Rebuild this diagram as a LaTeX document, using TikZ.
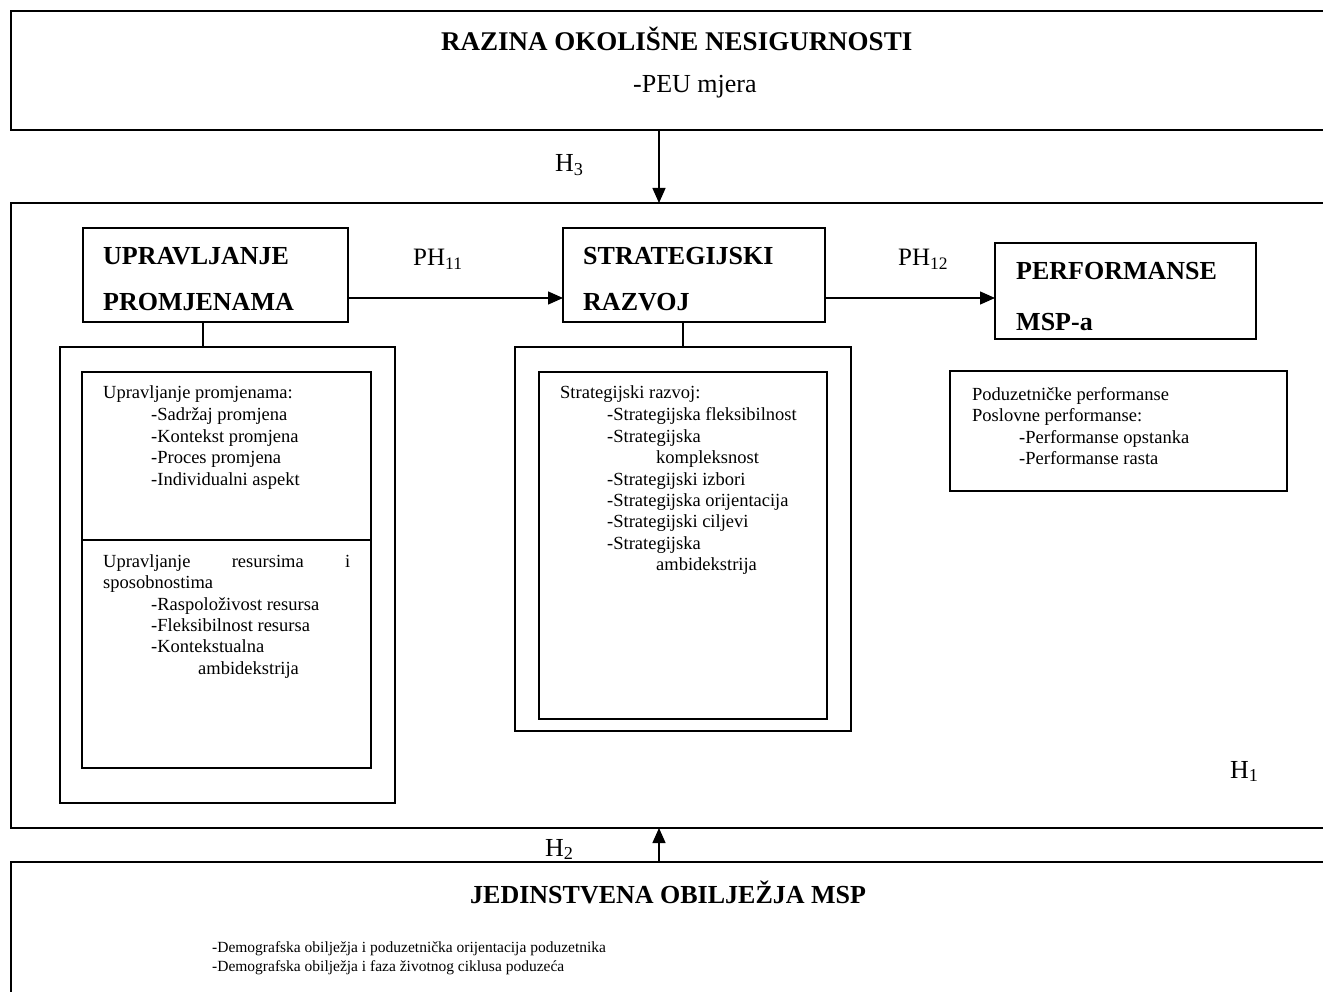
\documentclass[tikz,border=0pt]{standalone}
\usepackage{fontspec}
\setmainfont{Liberation Serif}
\usetikzlibrary{arrows.meta}
\tikzset{
  box/.style={draw, line width=1.7pt, anchor=north west, inner sep=0pt, outer sep=0pt},
  arr/.style={line width=1.4pt, -{Triangle[length=15pt,width=13pt]}},
  lnk/.style={line width=1.4pt},
  txt/.style={anchor=base west, inner sep=0pt, font=\fontsize{18.5}{21}\selectfont},
  small/.style={anchor=base west, inner sep=0pt, font=\fontsize{15.5}{18}\selectfont},
  head/.style={anchor=base west, inner sep=0pt, font=\bfseries\fontsize{26}{30}\selectfont},
  big/.style={anchor=base west, inner sep=0pt, font=\fontsize{26}{30}\selectfont},
  lab/.style={anchor=base west, inner sep=0pt, font=\fontsize{25}{30}\selectfont},
}
\begin{document}
\begin{tikzpicture}[x=1pt,y=-1pt]
\useasboundingbox (0,0) rectangle (1323,992);
\clip (0,0) rectangle (1323,992);

% big frames (cut by right/bottom edge)
\node[box, minimum width=1340, minimum height=119] (env) at (11,11) {};
\node[box, minimum width=1340, minimum height=625] (core) at (11,203) {};
\node[box, minimum width=1340, minimum height=160] (sme) at (11,862) {};

% top texts
\node[head, font=\bfseries\fontsize{27}{30}\selectfont] (envt) at (441,51) {RAZINA OKOLIŠNE NESIGURNOSTI};
\node[big] (envs) at (633,93) {-PEU mjera};

% headline boxes
\node[box, minimum width=265, minimum height=94] (up) at (83,228) {};
\node[box, minimum width=262, minimum height=94] (sr) at (563,228) {};
\node[box, minimum width=261, minimum height=96] (pf) at (995,243) {};
\node[head] (up1) at (103,265) {UPRAVLJANJE};
\node[head] (up2) at (103,311) {PROMJENAMA};
\node[head] (sr1) at (583,265) {STRATEGIJSKI};
\node[head] (sr2) at (583,311) {RAZVOJ};
\node[head] (pf1) at (1016,280) {PERFORMANSE};
\node[head] (pf2) at (1016,331) {MSP-a};

% detail boxes
\node[box, minimum width=335, minimum height=456] (lo) at (60,347) {};
\node[box, minimum width=289, minimum height=396] (li) at (82,372) {};
\node[box, minimum width=336, minimum height=384] (mo) at (515,347) {};
\node[box, minimum width=288, minimum height=347] (mi) at (539,372) {};
\node[box, minimum width=337, minimum height=120] (rb) at (950,371) {};
\coordinate (div) at (0,540);
\draw[line width=1.7pt] (li.west |- div) -- (li.east |- div);

% left box texts
\node[txt] (a1) at (103,399) {Upravljanje promjenama:};
\node[txt] (a2) at (151,420) {-Sadržaj promjena};
\node[txt] (a3) at (151,442) {-Kontekst promjena};
\node[txt] (a4) at (151,463) {-Proces promjena};
\node[txt] (a5) at (151,485) {-Individualni aspekt};
\node[txt] (b1) at (103,567) {\makebox[247pt][s]{Upravljanje resursima i}};
\node[txt] (b2) at (103,588) {sposobnostima};
\node[txt] (b3) at (151,610) {-Raspoloživost resursa};
\node[txt] (b4) at (151,631) {-Fleksibilnost resursa};
\node[txt] (b5) at (151,652) {-Kontekstualna};
\node[txt] (b6) at (198,674) {ambidekstrija};

% middle box texts
\node[txt] (c1) at (560,399) {Strategijski razvoj:};
\node[txt] (c2) at (607,420) {-Strategijska fleksibilnost};
\node[txt] (c3) at (607,442) {-Strategijska};
\node[txt] (c4) at (656,463) {kompleksnost};
\node[txt] (c5) at (607,485) {-Strategijski izbori};
\node[txt] (c6) at (607,506) {-Strategijska orijentacija};
\node[txt] (c7) at (607,527) {-Strategijski ciljevi};
\node[txt] (c8) at (607,549) {-Strategijska};
\node[txt] (c9) at (656,570) {ambidekstrija};

% right box texts
\node[txt] (d1) at (972,400) {Poduzetničke performanse};
\node[txt] (d2) at (972,421) {Poslovne performanse:};
\node[txt] (d3) at (1019,443) {-Performanse opstanka};
\node[txt] (d4) at (1019,464) {-Performanse rasta};

% bottom texts
\node[head] (smet) at (470,903) {JEDINSTVENA OBILJEŽJA MSP};
\node[small] (e1) at (212,952) {-Demografska obilježja i poduzetnička orijentacija poduzetnika};
\node[small] (e2) at (212,971) {-Demografska obilježja i faza životnog ciklusa poduzeća};

% labels
\node[big] (h3) at (555,172) {H\textsubscript{3}};
\node[big] (h2) at (545,856) {H\textsubscript{2}};
\node[big] (h1) at (1230,778) {H\textsubscript{1}};
\node[lab] (ph11) at (413,266) {PH\textsubscript{11}};
\node[lab] (ph12) at (898,266) {PH\textsubscript{12}};

% connectors
\coordinate (vx) at (659,0);
\coordinate (hy) at (0,298);
\coordinate (ux) at (203,0);
\coordinate (sx) at (683,0);
\draw[arr] (env.south -| vx) -- (core.north -| vx);
\draw[arr] (sme.north -| vx) -- (core.south -| vx);
\draw[arr] (up.east |- hy) -- (sr.west |- hy);
\draw[arr] (sr.east |- hy) -- (pf.west |- hy);
\draw[lnk] (up.south -| ux) -- (lo.north -| ux);
\draw[lnk] (sr.south -| sx) -- (mo.north -| sx);
\end{tikzpicture}
\end{document}
